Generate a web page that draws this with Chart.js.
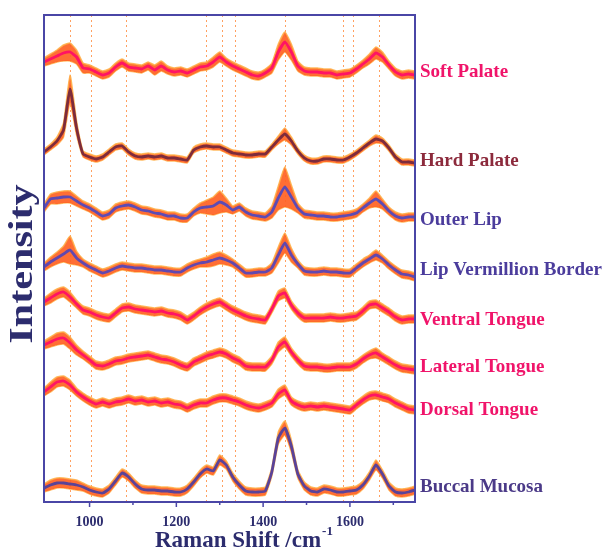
<!DOCTYPE html>
<html>
<head>
<meta charset="utf-8">
<script src="https://cdn.jsdelivr.net/npm/chart.js@4"></script>
<style>
  html, body { margin: 0; padding: 0; background: #fff; }
  #wrap { width: 612px; height: 551px; }
</style>
</head>
<body>
<div id="wrap"><canvas id="myChart" width="612" height="551"></canvas></div>
<script>
// raman shift grid (cm-1)
const wavenumbers = [895, 910, 925, 940, 955, 970, 985, 1000, 1015, 1030,
  1045, 1060, 1075, 1090, 1105, 1120, 1135, 1150, 1165, 1180,
  1195, 1210, 1225, 1240, 1255, 1270, 1285, 1300, 1315, 1330,
  1345, 1360, 1375, 1390, 1405, 1420, 1435, 1450, 1465, 1480,
  1495, 1510, 1525, 1540, 1555, 1570, 1585, 1600, 1615, 1630,
  1645, 1660, 1675, 1690, 1705, 1720, 1735, 1750];

// marked band positions
const peakLines = [955, 1004, 1084, 1268, 1306, 1335, 1451, 1584, 1607, 1667];

const xTicksMajor = [1000, 1200, 1400, 1600];
const xTicksMinor = [1100, 1300, 1500, 1700];

const seriesNames = ['Soft Palate', 'Hard Palate', 'Outer Lip', 'Lip Vermillion Border',
  'Ventral Tongue', 'Lateral Tongue', 'Dorsal Tongue', 'Buccal Mucosa'];

// mean spectra (stacked, arbitrary units)
const softPalate = [440,443,446,449,450,445,434,433,430,427, 429,435,439,435,434,433,436,432,436,432,
  430,431,429,432,435,436,440,445,440,436, 433,430,427,426,429,434,450,460,450,436,
  431,430,430,429,429,427,428,429,433,438, 443,449,445,437,430,427,428,427];
const hardPalate = [350,355,361,372,413,374,348,345,343,345, 350,355,356,350,346,345,346,345,346,344,
  344,343,342,352,355,356,355,355,352,349, 348,347,347,348,348,355,362,368,361,351,
  344,341,341,343,343,342,342,345,349,354, 359,363,361,354,345,340,340,339];
const outerLip = [294,303,304,305,305,301,297,294,290,286, 288,294,296,297,295,292,291,289,288,286,
  286,284,284,290,294,295,296,300,297,292, 295,290,287,286,285,290,304,315,305,294,
  288,287,286,286,285,285,286,287,289,294, 299,303,298,291,286,284,285,285];
const lipVermillion = [235,240,244,248,252,244,239,235,232,229, 231,234,236,235,234,234,233,232,232,231,
  230,230,234,237,239,240,242,244,242,239, 234,229,229,230,230,234,247,259,247,238,
  231,230,230,231,230,230,229,229,234,239, 243,247,243,237,232,228,227,225];
const ventralTongue = [200,204,208,210,205,198,192,190,187,185, 184,189,194,195,193,192,191,190,191,189,
  188,186,182,186,191,195,198,200,196,192, 189,186,184,183,182,193,206,209,197,189,
  184,184,184,184,185,184,184,185,186,191, 197,198,194,190,185,182,183,183];
const lateralTongue = [157,160,163,164,159,152,147,142,137,136, 138,141,142,144,145,146,147,145,143,142,
  140,137,135,140,143,146,148,150,148,144, 141,136,135,135,135,142,155,160,150,142,
  136,135,135,134,134,135,135,135,138,143, 147,149,145,141,137,134,133,132];
const dorsalTongue = [110,115,120,121,117,110,105,101,98,100, 98,100,101,103,101,102,100,101,99,100,
  98,97,94,97,99,99,102,104,104,102, 100,97,95,94,96,99,108,112,101,97,
  95,96,95,96,95,94,93,92,97,102, 106,107,105,103,99,96,93,92];
const buccalMucosa = [14,17,19,19,18,17,15,12,10,9, 13,21,29,25,18,13,12,12,11,11,
  10,10,13,20,28,33,31,42,37,25, 17,11,10,10,11,30,64,74,56,28,
  16,11,10,13,12,10,10,11,12,17, 26,37,28,16,10,9,10,12];

// standard deviation of each spectrum
const softPalateSd = [4,5,6,8,9,7,5,4,4,4, 4,4,4,4,4,4,4,5,5,4, 4,4,4,4,4,4,5,5,4,4,
  4,4,4,4,4,5,8,10,8,5, 4,4,4,4,4,4,4,4,4,4, 5,6,5,4,4,4,4,4];
const hardPalateSd = [3,3,4,7,14,7,3,3,3,3, 3,3,3,3,3,3,3,3,3,3, 3,3,3,3,3,3,3,3,3,3,
  3,3,3,3,3,3,4,6,4,3, 3,3,3,3,3,3,3,3,3,3, 3,4,3,3,3,3,3,3];
const outerLipSd = [4,5,6,6,6,5,4,4,4,4, 4,4,4,4,4,4,4,4,4,4, 4,4,4,4,5,7,9,11,7,4,
  4,4,4,4,4,6,12,20,12,5, 4,4,4,4,4,4,4,4,4,4, 5,8,5,4,4,4,4,4];
const lipVermillionSd = [4,5,6,8,14,7,4,4,4,4, 4,4,4,4,4,4,4,4,4,4, 4,4,4,4,4,5,6,6,5,4,
  4,4,4,4,4,5,8,10,7,4, 4,4,4,4,4,4,4,4,4,4, 4,5,4,4,4,4,4,4];
const ventralTongueSd = [4,5,5,5,5,4,4,4,4,4, 4,4,4,4,4,4,4,4,4,4, 4,4,4,4,4,4,4,4,4,4,
  4,4,4,4,4,4,5,5,4,4, 4,4,4,4,4,4,4,4,4,4, 4,4,4,4,4,4,4,4];
const lateralTongueSd = [4,5,6,6,6,5,4,4,4,4, 4,4,4,4,4,4,4,4,4,4, 4,4,4,4,4,4,4,4,4,4,
  4,4,4,4,4,4,5,5,4,4, 4,4,4,4,4,4,4,4,4,4, 4,5,4,4,4,4,4,4];
const dorsalTongueSd = [4,5,5,5,5,4,4,4,4,4, 4,4,4,4,4,4,4,4,4,4, 4,4,4,4,4,4,4,4,4,4,
  4,4,4,4,4,4,5,5,4,4, 4,4,4,4,4,4,4,4,4,4, 4,4,4,4,4,4,4,4];
const buccalMucosaSd = [4,5,5,5,5,5,4,4,4,4, 4,4,4,4,4,4,4,4,4,4, 4,4,4,4,4,4,4,5,4,4,
  4,4,4,4,4,4,6,7,6,4, 4,4,4,4,4,4,4,4,4,4, 4,5,4,4,4,4,4,4];

const means = [softPalate, hardPalate, outerLip, lipVermillion, ventralTongue, lateralTongue, dorsalTongue, buccalMucosa];
const spreads = [softPalateSd, hardPalateSd, outerLipSd, lipVermillionSd, ventralTongueSd, lateralTongueSd, dorsalTongueSd, buccalMucosaSd];

// styles
const lineColors = ['#ff1464', '#7d2c3c', '#5c4bb4', '#6248ae', '#ff1464', '#ff1464', '#ff1464', '#5a4398'];
const labelColors = ['#f0146a', '#8c2a3c', '#4b3c9c', '#4b3c9c', '#f0146a', '#f0146a', '#f0146a', '#4b3a88'];
const labelNudge = [-3, -2, 3, -7, 1, -3, 0, -3];
const navy = '#2c2c6e';

function pts(arr) {
  return wavenumbers.map((w, i) => ({ x: w, y: arr[i] }));
}

let datasets = [];
means.forEach((m, k) => {
  const s = spreads[k];
  datasets.push({
    data: pts(m.map((v, i) => v + s[i])),
    borderColor: 'rgba(255,175,70,0.85)', borderWidth: 1.5,
    backgroundColor: 'rgba(255,98,35,0.92)',
    fill: '+1', pointRadius: 0, tension: 0.15, order: 2
  });
  datasets.push({
    data: pts(m.map((v, i) => v - s[i])),
    borderColor: 'rgba(255,175,70,0.85)', borderWidth: 1.5,
    backgroundColor: 'rgba(255,98,35,0.92)',
    fill: false, pointRadius: 0, tension: 0.15, order: 2
  });
});
means.forEach((m, k) => {
  datasets.push({
    label: seriesNames[k],
    data: pts(m),
    borderColor: lineColors[k], borderWidth: 2.8,
    fill: false, pointRadius: 0, tension: 0.15, order: 1,
    borderJoinStyle: 'round'
  });
});

const decor = {
  id: 'decor',
  beforeDatasetsDraw(chart) {
    const ctx = chart.ctx, a = chart.chartArea, xs = chart.scales.x;
    ctx.save();
    ctx.strokeStyle = 'rgba(255,150,80,0.9)';
    ctx.lineWidth = 1;
    ctx.setLineDash([2, 3]);
    peakLines.forEach(p => {
      const x = Math.round(xs.getPixelForValue(p)) + 0.5;
      ctx.beginPath(); ctx.moveTo(x, a.top); ctx.lineTo(x, a.bottom); ctx.stroke();
    });
    ctx.restore();
  },
  afterDraw(chart) {
    const ctx = chart.ctx, a = chart.chartArea, xs = chart.scales.x, ys = chart.scales.y;
    ctx.save();
    // frame
    ctx.strokeStyle = '#4a46a6';
    ctx.lineWidth = 2;
    ctx.strokeRect(a.left, a.top, a.right - a.left, a.bottom - a.top);
    // ticks
    ctx.lineWidth = 1.5;
    xTicksMajor.forEach(t => {
      const x = xs.getPixelForValue(t);
      ctx.beginPath(); ctx.moveTo(x, a.bottom); ctx.lineTo(x, a.bottom + 5); ctx.stroke();
    });
    xTicksMinor.forEach(t => {
      const x = xs.getPixelForValue(t);
      ctx.beginPath(); ctx.moveTo(x, a.bottom); ctx.lineTo(x, a.bottom + 3); ctx.stroke();
    });
    ctx.fillStyle = navy;
    ctx.font = 'bold 14px "Liberation Serif"';
    ctx.textAlign = 'center';
    ctx.textBaseline = 'alphabetic';
    xTicksMajor.forEach(t => ctx.fillText(String(t), xs.getPixelForValue(t), 526));
    // x title
    ctx.font = 'bold 23px "Liberation Serif"';
    ctx.textAlign = 'left';
    ctx.fillText('Raman Shift /cm', 155, 547);
    const tw = ctx.measureText('Raman Shift /cm').width;
    ctx.font = 'bold 13px "Liberation Serif"';
    ctx.fillText('-1', 155 + tw + 1, 535);
    // y title
    ctx.save();
    ctx.translate(23, 264);
    ctx.rotate(-Math.PI / 2);
    ctx.scale(1.24, 1);
    ctx.font = 'bold 34px "Liberation Serif"';
    ctx.textAlign = 'center';
    ctx.textBaseline = 'middle';
    ctx.fillText('Intensity', 0, 0);
    ctx.restore();
    // series labels
    ctx.font = 'bold 19px "Liberation Serif"';
    ctx.textAlign = 'left';
    ctx.textBaseline = 'middle';
    means.forEach((m, k) => {
      ctx.fillStyle = labelColors[k];
      const y = ys.getPixelForValue(m[m.length - 1]) + labelNudge[k];
      ctx.fillText(seriesNames[k], a.right + 5, y);
    });
    ctx.restore();
  }
};

const config = {
  type: 'line',
  data: { datasets: datasets },
  options: {
    responsive: false,
    animation: false,
    devicePixelRatio: 1,
    layout: { padding: { left: 44, right: 197, top: 15, bottom: 49 } },
    plugins: { legend: { display: false }, tooltip: { enabled: false } },
    scales: {
      x: { type: 'linear', min: 895, max: 1750, display: false },
      y: { type: 'linear', min: 0, max: 487, display: false }
    }
  },
  plugins: [decor]
};

const chart = new Chart(document.getElementById('myChart'), config);
</script>
</body>
</html>
